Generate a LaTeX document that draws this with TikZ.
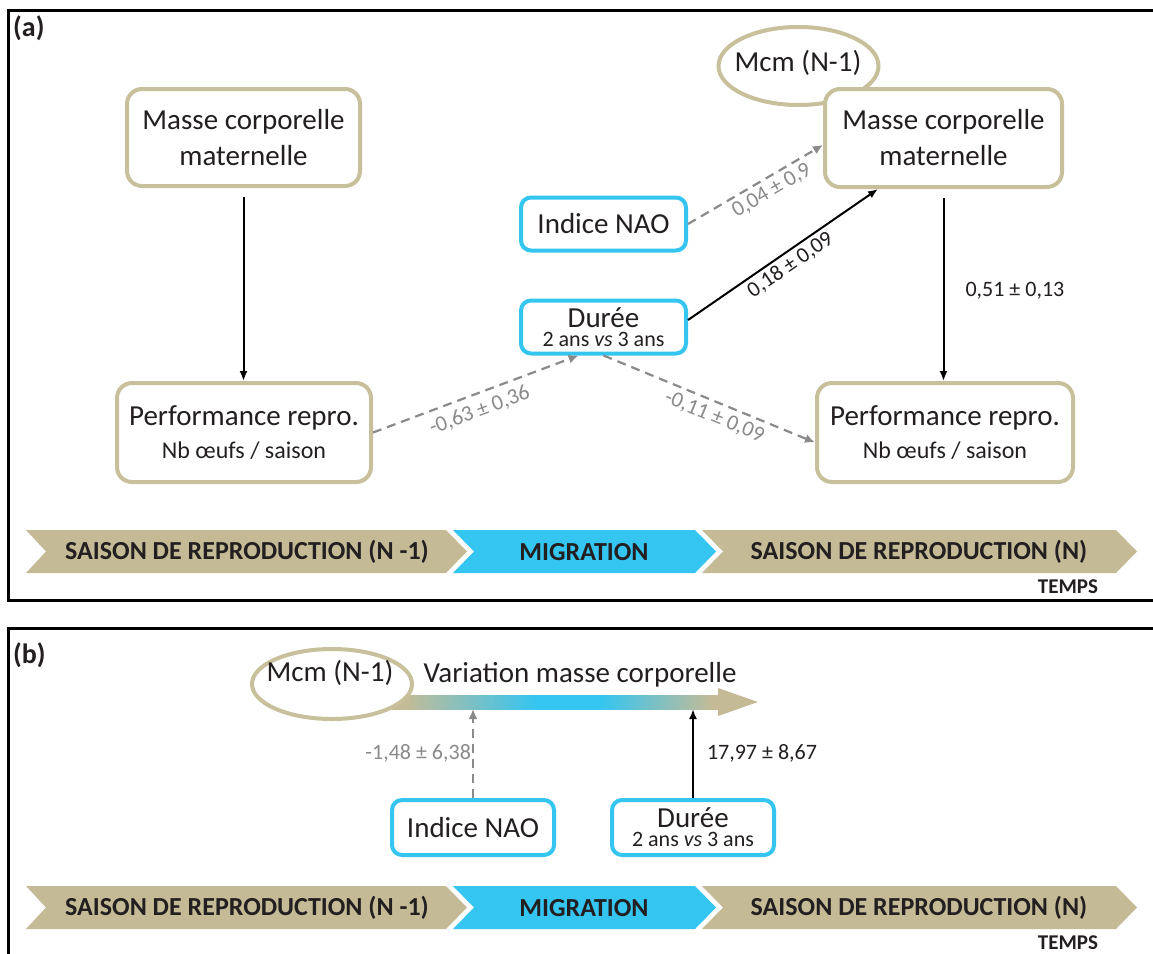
\documentclass[tikz,border=0pt]{standalone}
\usepackage{fontspec}
\setmainfont{Carlito}
\usetikzlibrary{arrows.meta,shapes.geometric,calc}
\definecolor{tanc}{HTML}{C4BB96}
\definecolor{tanb}{HTML}{C8BF9B}
\definecolor{bluec}{HTML}{35C5F1}
\definecolor{grayc}{HTML}{8A8A8A}
\definecolor{txt}{HTML}{231F20}
\newcommand\mymain{\fontsize{29}{36}\selectfont}
\newcommand\mysub{\fontsize{24}{30}\selectfont}
\newcommand\mydur{\fontsize{22}{26}\selectfont}
\newcommand\mylab{\fontsize{22}{26}\selectfont}
\newcommand\mychev{\fontsize{26}{30}\selectfont}
\newcommand\mytemps{\fontsize{21}{24}\selectfont}
\newcommand\mypanel{\fontsize{28}{30}\selectfont}
\pgfdeclarehorizontalshading{varshade}{100bp}{color(0bp)=(tanc); color(27bp)=(tanc); color(47bp)=(bluec); color(57bp)=(bluec); color(74bp)=(tanc); color(100bp)=(tanc)}
\begin{document}
\begin{tikzpicture}[x=1pt,y=-1pt,
  every node/.style={text=txt, font=\mymain},
  tanbox/.style={draw=tanb, line width=4pt, rounded corners=15pt, fill=white, align=center, inner sep=0pt, font=\mymain},
  bluebox/.style={draw=bluec, line width=4pt, rounded corners=10pt, fill=white, align=center, inner sep=0pt, font=\mymain},
  ovalbox/.style={ellipse, draw=tanb, line width=4pt, fill=white, inner sep=0pt},
  blk/.style={draw=black, line width=2pt, -{Latex[length=10pt,width=8pt]}},
  gry/.style={draw=grayc, line width=2.2pt, dash pattern=on 9pt off 6pt, -{Latex[length=10pt,width=9pt]}},
  glab/.style={text=grayc, font=\mylab, inner sep=0pt},
  blab/.style={text=txt, font=\mylab, inner sep=0pt},
  chev/.style={font=\mychev\bfseries, text=txt, inner sep=0pt},
  temps/.style={font=\mytemps\bfseries, text=txt, inner sep=0pt},
  panel/.style={font=\mypanel\bfseries, text=txt, inner sep=0pt},
]
\useasboundingbox (0,0) rectangle (1153,953);
\clip (0,0) rectangle (1153,953);
\fill[white] (0,0) rectangle (1153,953);

% frames
\draw[line width=3pt] (8,10) rectangle (1170,600);
\draw[line width=3pt] (8,628) rectangle (1170,980);
\node[panel, anchor=west] (labA) at (13,28) {(a)};
\node[panel, anchor=west] (labB) at (13,655) {(b)};

% ---------- panel (a)
\node[ovalbox, minimum width=160pt, minimum height=78pt] (mcmA) at (798.5,66) {};
\node (mcmAt) at (798,63) {Mcm (N-1)};
\node[tanbox, minimum width=233pt, minimum height=97pt] (mL) at (243.5,137.5) {Masse corporelle\\maternelle};
\node[tanbox, minimum width=254pt, minimum height=99pt] (pL) at (244,432.5) {Performance repro.\\[-3pt]{\mysub Nb œufs / saison}};
\node[tanbox, minimum width=237pt, minimum height=98pt] (mR) at (943.5,138) {Masse corporelle\\maternelle};
\node[tanbox, minimum width=256pt, minimum height=99pt] (pR) at (945,432.5) {Performance repro.\\[-3pt]{\mysub Nb œufs / saison}};
\node[bluebox, minimum width=165pt, minimum height=53pt] (naoA) at (603.5,224) {Indice NAO};
\node[bluebox, minimum width=165pt, minimum height=53pt] (durA) at (603.5,327) {Durée\\[-17pt]{\mydur 2 ans \textit{vs} 3 ans}};

\draw[blk, shorten <=9pt] (mL.south) -- (mL.south |- pL.north);
\draw[blk, shorten <=9pt] (mR.south) -- node[blab, pos=0.53, anchor=west, xshift=21pt] {0,51 ± 0,13} (mR.south |- pR.north);
\draw[gry] (naoA.east) -- node[glab, sloped, below=4pt, pos=0.57] {0,04 ± 0,9} ([yshift=-7pt]mR.west);
\draw[blk] ([yshift=7pt]durA.east) -- node[blab, sloped, below=3pt, pos=0.5] {0,18 ± 0,09} ([xshift=55pt]mR.south west);
\draw[gry] (pL.east) -- node[glab, sloped, below=7pt, pos=0.49] {-0,63 ± 0,36} ([xshift=-25pt]durA.south);
\draw[gry] (durA.south) -- node[glab, sloped, below=5pt, pos=0.55] {-0,11 ± 0,09} ([yshift=-10pt]pR.west);

% ---------- panel (b)
\node[shade, shading=varshade, minimum width=326pt, minimum height=14pt, inner sep=0pt, outer sep=0pt] (shaft) at (555,702) {};
\fill[tanc] ([yshift=7pt]shaft.north east) -- ($(shaft.east)+(40,0)$) -- ([yshift=-7pt]shaft.south east) -- cycle;
\node[ovalbox, minimum width=160pt, minimum height=70pt] (mcmB) at (332,684) {};
\node (mcmBt) at (330,673) {Mcm (N-1)};
\node (varT) at (580,675) {Variation masse corporelle};
\node[bluebox, minimum width=162pt, minimum height=55pt] (naoB) at (473,827.5) {Indice NAO};
\node[bluebox, minimum width=162pt, minimum height=55pt] (durB) at (693,827.5) {Durée\\[-17pt]{\mydur 2 ans \textit{vs} 3 ans}};
\draw[gry] (naoB.north) -- node[glab, pos=0.5, left=1pt] {-1,48 ± 6,38} (naoB.north |- shaft.south);
\draw[blk] (durB.north) -- node[blab, pos=0.5, right=13pt] {17,97 ± 8,67} (durB.north |- shaft.south);

% ---------- time lines
\foreach \dy/\s in {0/a,356/b}{
  \fill[tanc] (26,530+\dy) -- (446,530+\dy) -- (467,551.5+\dy) -- (446,573+\dy) -- (26,573+\dy) -- (46,551.5+\dy) -- cycle;
  \fill[bluec] (453,530+\dy) -- (695,530+\dy) -- (716,551.5+\dy) -- (695,573+\dy) -- (453,573+\dy) -- (474,551.5+\dy) -- cycle;
  \fill[tanc] (702,530+\dy) -- (1116,530+\dy) -- (1137,551.5+\dy) -- (1116,573+\dy) -- (702,573+\dy) -- (723,551.5+\dy) -- cycle;
  \node[chev] (sa\s) at (247,552+\dy) {SAISON DE REPRODUCTION (N -1)};
  \node[chev] (mi\s) at (584,552+\dy) {MIGRATION};
  \node[chev] (sn\s) at (919,552+\dy) {SAISON DE REPRODUCTION (N)};
  \node[temps] (te\s) at (1068,587+\dy) {TEMPS};
}
\end{tikzpicture}
\end{document}
